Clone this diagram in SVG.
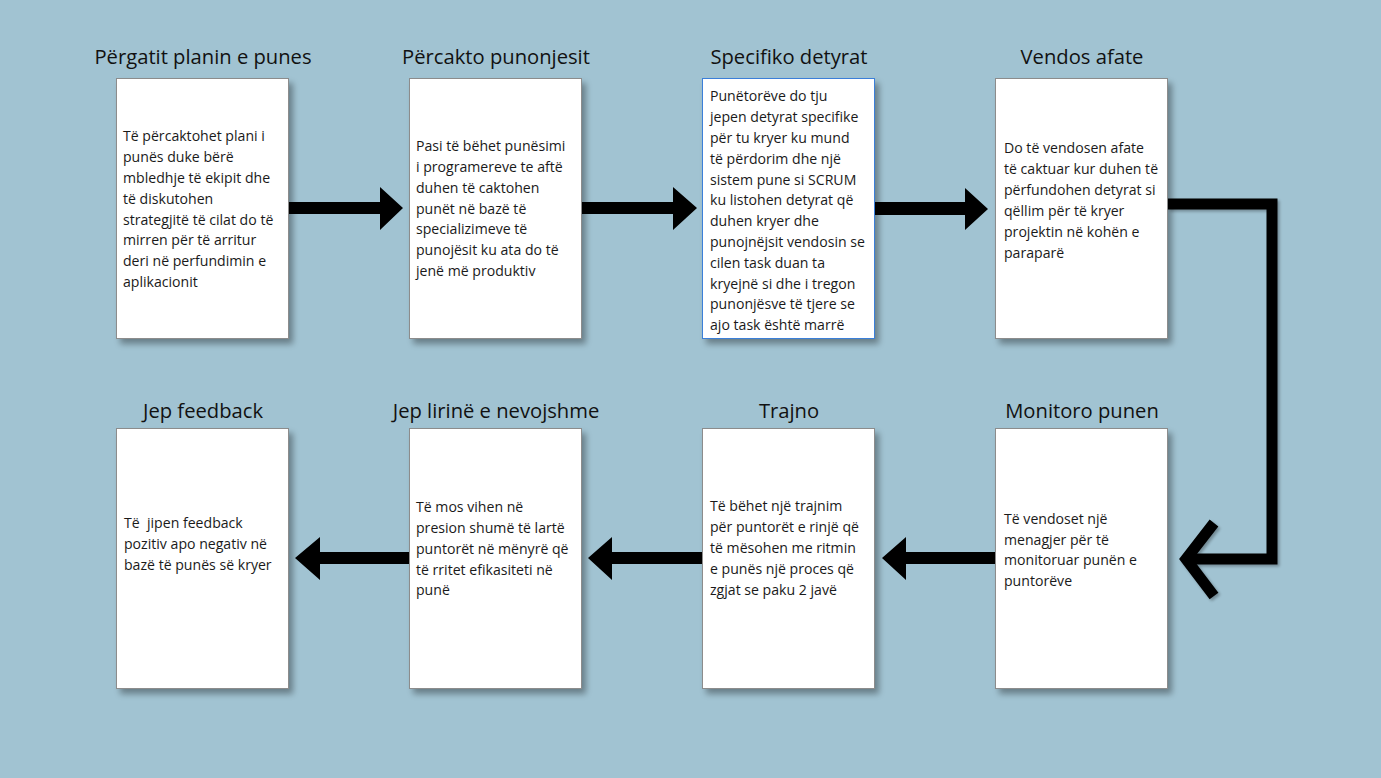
<svg xmlns="http://www.w3.org/2000/svg" width="1381" height="778" viewBox="0 0 1381 778">
<defs>
<filter id="sh" x="-20%" y="-20%" width="150%" height="150%">
<feGaussianBlur in="SourceAlpha" stdDeviation="3"/>
<feOffset dx="4" dy="5" result="b"/>
<feComponentTransfer><feFuncA type="linear" slope="0.35"/></feComponentTransfer>
<feMerge><feMergeNode/><feMergeNode in="SourceGraphic"/></feMerge>
</filter>
<filter id="sh2" x="-20%" y="-20%" width="150%" height="150%">
<feGaussianBlur in="SourceAlpha" stdDeviation="1.5"/>
<feOffset dx="2" dy="2" result="b"/>
<feComponentTransfer><feFuncA type="linear" slope="0.3"/></feComponentTransfer>
<feMerge><feMergeNode/><feMergeNode in="SourceGraphic"/></feMerge>
</filter>
</defs>
<style>
.box{fill:#ffffff;stroke:#8c8c8c;stroke-width:1;filter:url(#sh)}
.sel{stroke:#3b7fd9}
.title{font-family:"Open Sans","Noto Sans",sans-serif;font-size:20.2px;fill:#111111;text-anchor:middle}
.body{font-family:"Open Sans","Noto Sans",sans-serif;font-size:14.1px;fill:#1a1a1a}
.arr{fill:#000000}
.ln{fill:none;stroke:#000000;stroke-width:11}
</style>
<rect width="1381" height="778" fill="#a1c3d2"/>

<g id="connectors">
<g class="arr">
<polygon points="289,202 380,202 380,187 403,208 380,230 380,214 289,214"/>
<polygon points="582,202 673,202 673,187 697,208 673,230 673,214 582,214"/>
<polygon points="875,202 965,202 965,188 988,209 965,230 965,215 875,215"/>
<polygon points="996,552 906,552 906,537 882,558 906,580 906,564 996,564"/>
<polygon points="702,552 612,552 612,537 588,558 612,580 612,564 702,564"/>
<polygon points="410,552 320,552 320,537 295,558 320,580 320,564 410,564"/>
</g>
<g filter="url(#sh2)">
<polyline class="ln" points="1168,204 1272,204 1272,559 1186,559"/>
<polyline class="ln" stroke-linecap="butt" points="1214,523 1186,559 1214,596"/>
</g>
</g>

<g id="n1">
<text class="title" x="203" y="64">Përgatit planin e punes</text>
<rect class="box" x="116.5" y="78.5" width="172" height="260"/>
<text class="body"><tspan x="123" y="141">Të përcaktohet plani i</tspan><tspan x="123" y="162">punës duke bërë</tspan><tspan x="123" y="183">mbledhje të ekipit dhe</tspan><tspan x="123" y="204">të diskutohen</tspan><tspan x="123" y="225">strategjitë të cilat do të</tspan><tspan x="123" y="245">mirren për të arritur</tspan><tspan x="123" y="266">deri në perfundimin e</tspan><tspan x="123" y="287">aplikacionit</tspan></text>
</g>

<g id="n2">
<text class="title" x="496" y="64">Përcakto punonjesit</text>
<rect class="box" x="409.5" y="78.5" width="172" height="260"/>
<text class="body"><tspan x="416" y="151">Pasi të bëhet punësimi</tspan><tspan x="416" y="172">i programereve te aftë</tspan><tspan x="416" y="193">duhen të caktohen</tspan><tspan x="416" y="214">punët në bazë të</tspan><tspan x="416" y="234">specializimeve të</tspan><tspan x="416" y="255">punojësit ku ata do të</tspan><tspan x="416" y="276">jenë më produktiv</tspan></text>
</g>

<g id="n3">
<text class="title" x="789" y="64">Specifiko detyrat</text>
<rect class="box sel" x="702.5" y="78.5" width="172" height="260"/>
<text class="body"><tspan x="710" y="101">Punëtorëve do tju</tspan><tspan x="710" y="122">jepen detyrat specifike</tspan><tspan x="710" y="143">për tu kryer ku mund</tspan><tspan x="710" y="164">të përdorim dhe një</tspan><tspan x="710" y="185">sistem pune si SCRUM</tspan><tspan x="710" y="205">ku listohen detyrat që</tspan><tspan x="710" y="226">duhen kryer dhe</tspan><tspan x="710" y="247">punojnëjsit vendosin se</tspan><tspan x="710" y="268">cilen task duan ta</tspan><tspan x="710" y="289">kryejnë si dhe i tregon</tspan><tspan x="710" y="309">punonjësve të tjere se</tspan><tspan x="710" y="330">ajo task është marrë</tspan></text>
</g>

<g id="n4">
<text class="title" x="1082" y="64">Vendos afate</text>
<rect class="box" x="995.5" y="78.5" width="172" height="260"/>
<text class="body"><tspan x="1004" y="153">Do të vendosen afate</tspan><tspan x="1004" y="174">të caktuar kur duhen të</tspan><tspan x="1004" y="195">përfundohen detyrat si</tspan><tspan x="1004" y="216">qëllim për të kryer</tspan><tspan x="1004" y="237">projektin në kohën e</tspan><tspan x="1004" y="258">paraparë</tspan></text>
</g>

<g id="n5">
<text class="title" x="1082" y="418">Monitoro punen</text>
<rect class="box" x="995.5" y="428.5" width="172" height="260"/>
<text class="body"><tspan x="1004" y="524">Të vendoset një</tspan><tspan x="1004" y="545">menagjer për të</tspan><tspan x="1004" y="565">monitoruar punën e</tspan><tspan x="1004" y="586">puntorëve</tspan></text>
</g>

<g id="n6">
<text class="title" x="789" y="418">Trajno</text>
<rect class="box" x="702.5" y="428.5" width="172" height="260"/>
<text class="body"><tspan x="710" y="511">Të bëhet një trajnim</tspan><tspan x="710" y="532">për puntorët e rinjë që</tspan><tspan x="710" y="553">të mësohen me ritmin</tspan><tspan x="710" y="574">e punës një proces që</tspan><tspan x="710" y="595">zgjat se paku 2 javë</tspan></text>
</g>

<g id="n7">
<text class="title" x="496" y="418">Jep lirinë e nevojshme</text>
<rect class="box" x="409.5" y="428.5" width="172" height="260"/>
<text class="body"><tspan x="416" y="512">Të mos vihen në</tspan><tspan x="416" y="533">presion shumë të lartë</tspan><tspan x="416" y="554">puntorët në mënyrë që</tspan><tspan x="416" y="575">të rritet efikasiteti në</tspan><tspan x="416" y="595">punë</tspan></text>
</g>

<g id="n8">
<text class="title" x="203" y="418">Jep feedback</text>
<rect class="box" x="116.5" y="428.5" width="172" height="260"/>
<text class="body" xml:space="preserve"><tspan x="124" y="528">Të  jipen feedback</tspan><tspan x="124" y="549">pozitiv apo negativ në</tspan><tspan x="124" y="570">bazë të punës së kryer</tspan></text>
</g>
</svg>
